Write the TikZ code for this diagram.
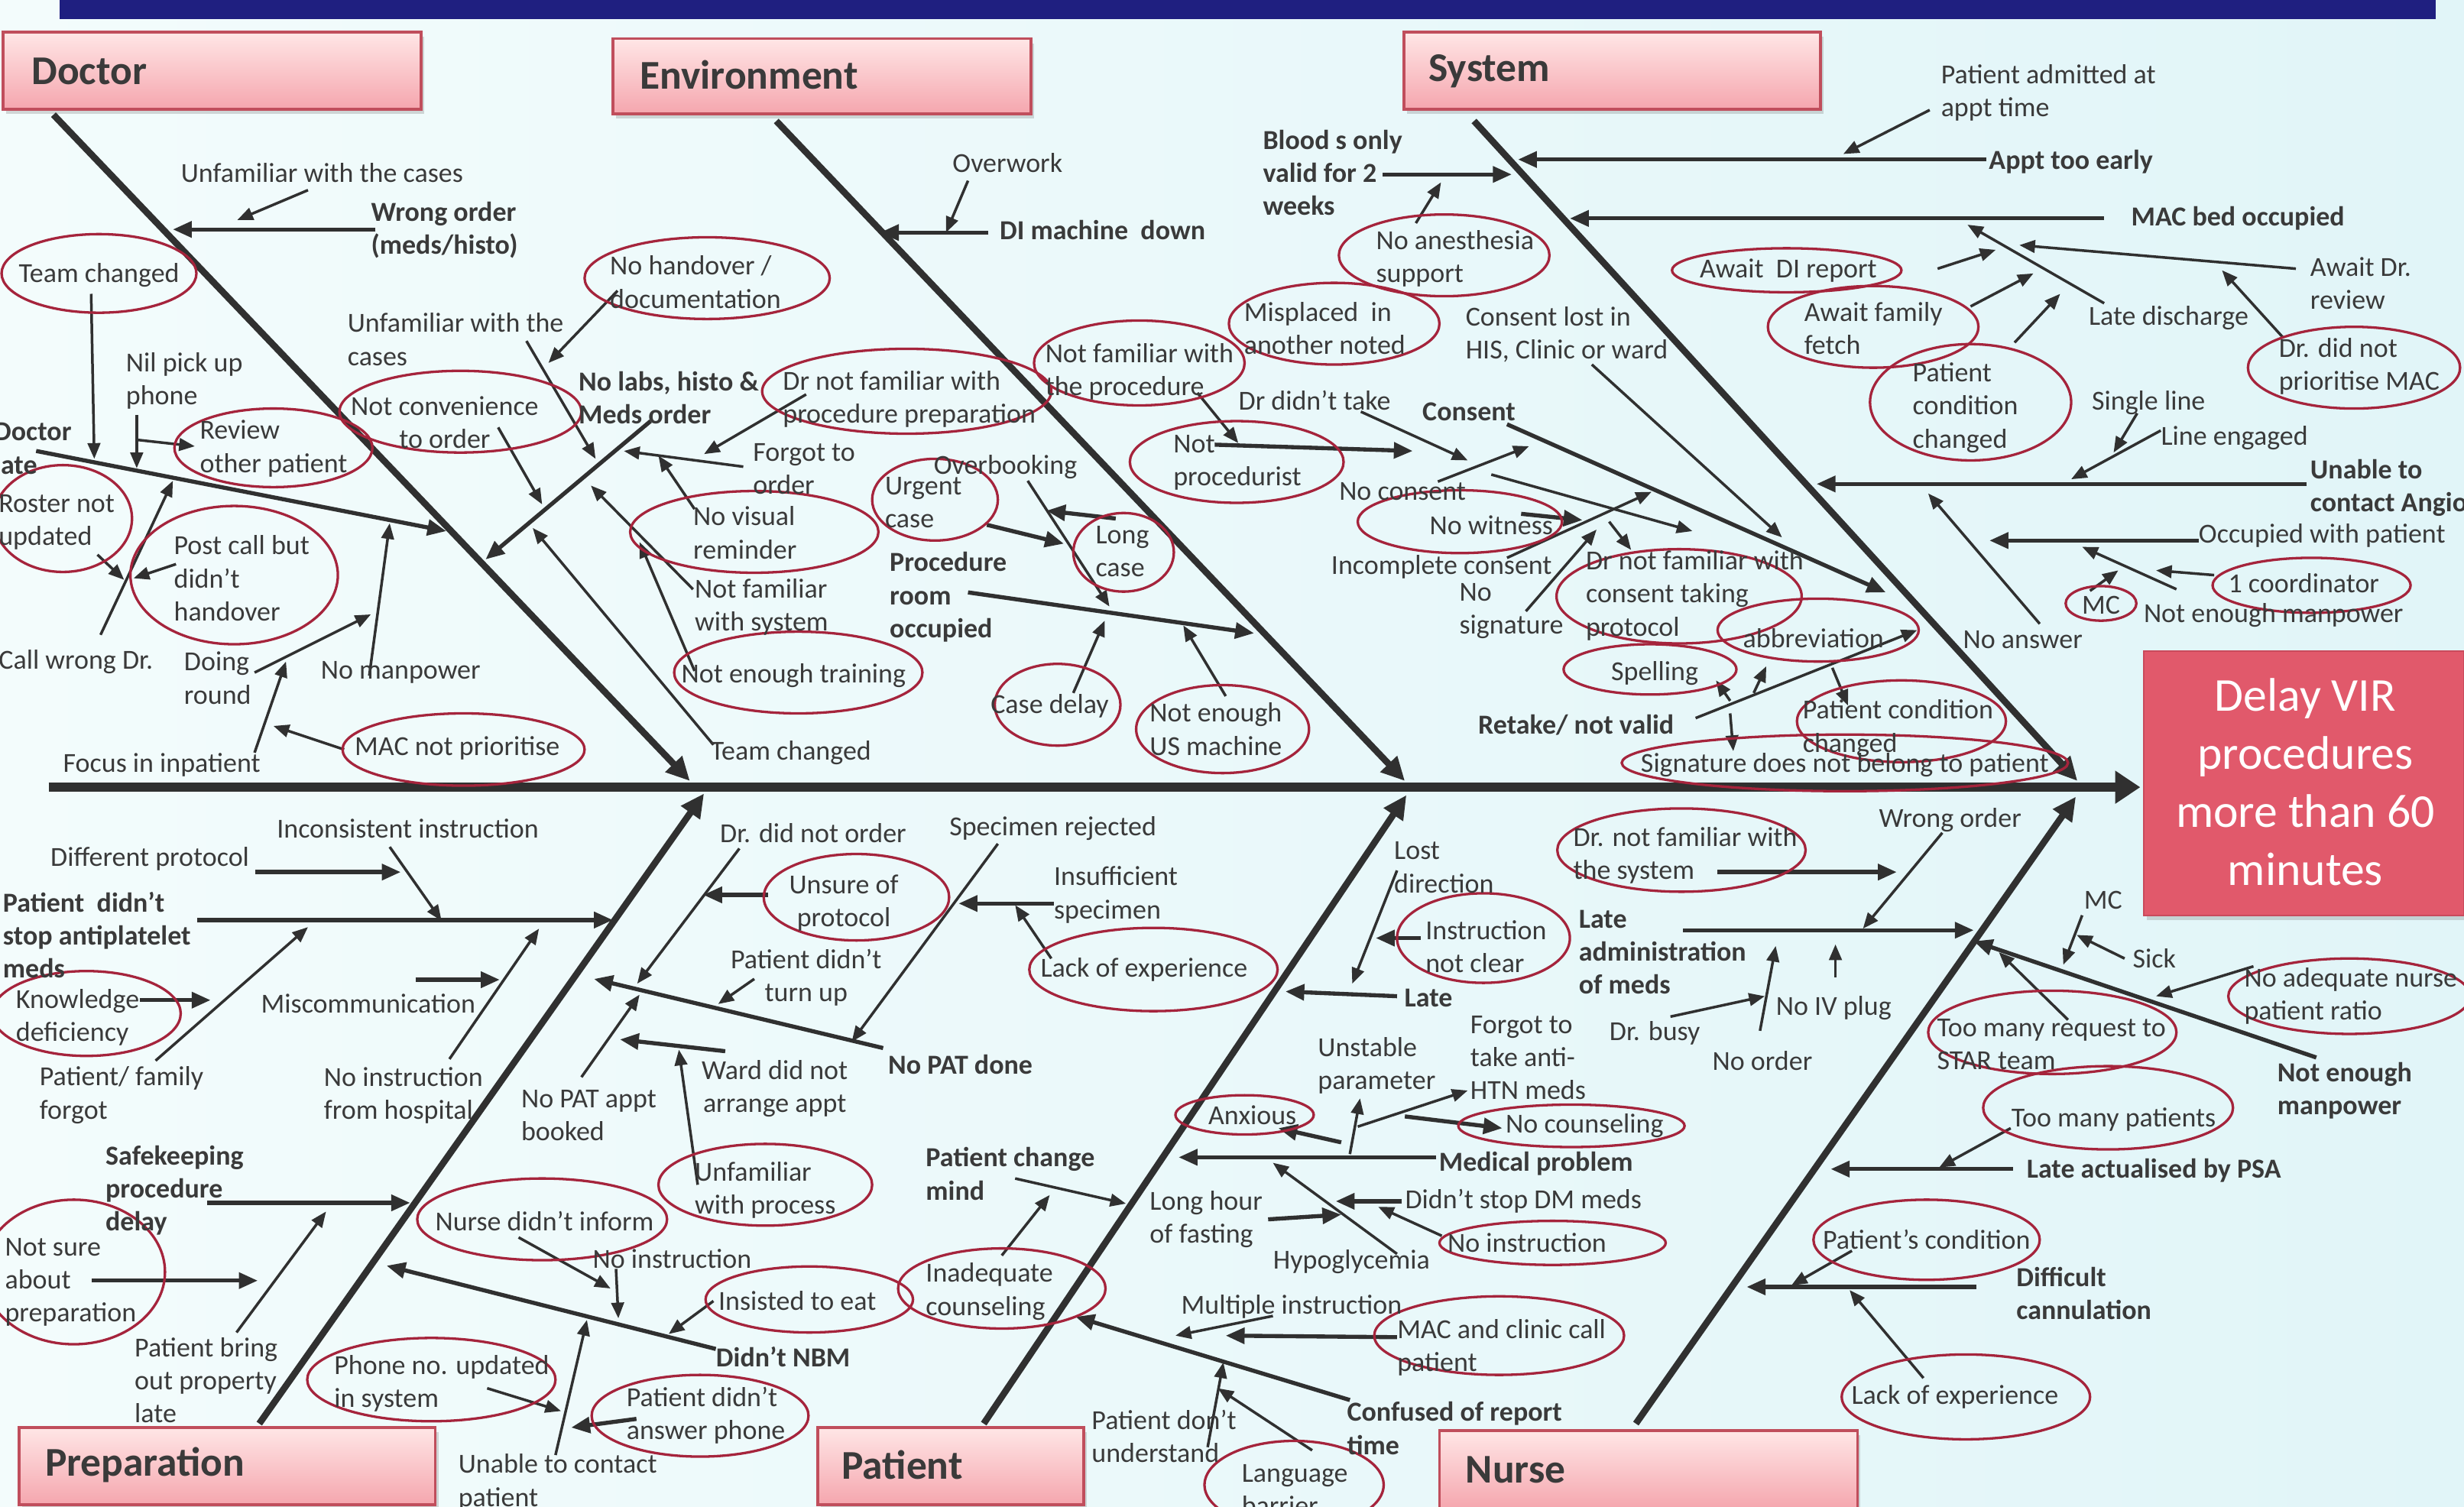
\documentclass[tikz,border=0pt]{standalone}
\usepackage{fontspec}
\setmainfont{Carlito}
\usetikzlibrary{arrows.meta,shadows}
\definecolor{inkgray}{HTML}{3A3A3A}
\definecolor{linegray}{HTML}{303030}
\definecolor{ringred}{HTML}{A5243C}
\definecolor{boxtop}{HTML}{FFE6E6}
\definecolor{boxbot}{HTML}{F5A6AE}
\definecolor{boxedge}{HTML}{C04E5C}
\definecolor{effectfill}{HTML}{E1596B}
\definecolor{effectedge}{HTML}{C94A5C}
\definecolor{navybar}{HTML}{1F1F80}
\definecolor{bgleft}{HTML}{F3FCFC}
\definecolor{bgright}{HTML}{E1F5F8}

\tikzset{
  lbl/.style={font=\fontsize{17.5pt}{21pt}\selectfont, text=inkgray, inner sep=0pt, align=left},
  blbl/.style={lbl, font=\fontsize{17.5pt}{21pt}\selectfont\bfseries},
  clbl/.style={lbl, align=center},
  ring/.style={draw=ringred, line width=1.6pt},
  spine/.style={draw=linegray, line width=5.5pt, -{Triangle[length=16pt,width=20pt]}},
  bone/.style={draw=linegray, line width=4.2pt, -{Triangle[length=15pt,width=14pt]}},
  branch/.style={draw=linegray, line width=2.6pt, -{Triangle[length=12pt,width=10pt]}},
  twig/.style={draw=linegray, line width=1.7pt, -{Triangle[length=10pt,width=8pt]}},
  catbox/.style={draw=boxedge, line width=1.8pt, top color=boxtop, bottom color=boxbot, inner sep=0pt,
    drop shadow={opacity=0.3, shadow xshift=2pt, shadow yshift=-3pt}},
  cattext/.style={font=\fontsize{26pt}{30pt}\selectfont\bfseries, text=inkgray, inner sep=0pt, anchor=west}
}

\begin{document}
\begin{tikzpicture}[x=1pt,y=-1pt]
\useasboundingbox (0,0) rectangle (1568,959);
\fill[left color=bgleft, right color=bgright] (0,0) rectangle (1568,959);
\fill[navybar] (38,0) rectangle (1550,12);

% categories
\node[catbox, minimum width=266pt, minimum height=49pt] (doctorbox) at (135,45) {};
\node[catbox, minimum width=266pt, minimum height=48pt] (envbox) at (523,48.5) {};
\node[catbox, minimum width=265pt, minimum height=49pt] (sysbox) at (1026,45) {};
\node[catbox, minimum width=265pt, minimum height=49pt] (prepbox) at (144.5,933) {};
\node[catbox, minimum width=169pt, minimum height=49pt] (patbox) at (605,933) {};
\node[catbox, minimum width=266pt, minimum height=50pt] (nursebox) at (1049,935.5) {};
\node[cattext] (doctortxt) at (20,45.5) {Doctor};
\node[cattext] (envtxt) at (407,47.5) {Environment};
\node[cattext] (systxt) at (909,45.5) {System};
\node[cattext] (preptxt) at (28.5,932.5) {Preparation};
\node[cattext] (pattxt) at (535.5,932.5) {Patient};
\node[cattext] (nursetxt) at (932.5,935.5) {Nurse};

\node[draw=effectedge, line width=1pt, fill=effectfill, minimum width=204pt, minimum height=168pt, inner sep=0pt,
  drop shadow={opacity=0.3, shadow xshift=2pt, shadow yshift=-3pt}] (effect) at (1466,498.5) {};
\node[font=\fontsize{30pt}{37pt}\selectfont, text=white, align=center, inner sep=0pt] (effecttxt) at (1467,497.5)
  {Delay VIR\\procedures\\more than 60\\minutes};

% spine and bones
\coordinate (spine0) at (31,501);
\coordinate (spine1) at (1362,501);
\coordinate (doc0) at (34,73);   \coordinate (doc1) at (439,497);
\coordinate (env0) at (494,77);  \coordinate (env1) at (894,497);
\coordinate (sys0) at (938,77);  \coordinate (sys1) at (1322,497);
\coordinate (prep0) at (165,906); \coordinate (prep1) at (448,505);
\coordinate (pat0) at (626,906); \coordinate (pat1) at (895,506);
\coordinate (nur0) at (1041,906); \coordinate (nur1) at (1321,507);
\draw[spine] (spine0) -- (spine1);
\draw[bone] (doc0) -- (doc1);
\draw[bone] (env0) -- (env1);
\draw[bone] (sys0) -- (sys1);
\draw[bone] (prep0) -- (prep1);
\draw[bone] (pat0) -- (pat1);
\draw[bone] (nur0) -- (nur1);

% Doctor
\draw[twig] (196,121) -- (151,140);
\draw[branch] (239,146) -- (110,146);
\draw[twig] (58,187) -- (60,292);
\draw[twig] (87,264) -- (87,298);
\draw[twig] (88,280) -- (124,284);
\draw[branch] (23,287) -- (284,338);
\draw[twig] (62,353) -- (79,369);
\draw[twig] (112,359) -- (85,368);
\draw[twig] (64,404) -- (110,306);
\draw[twig] (162,428) -- (236,391);
\draw[twig] (235,430) -- (248,333);
\draw[twig] (162,479) -- (182,421);
\draw[twig] (219,477) -- (174,462);
\draw[twig] (317,272) -- (345,321);
\draw[branch] (414,268) -- (309,356);
\draw[twig] (335,217) -- (379,292);
\draw[twig] (393,185) -- (349,231);
\draw[twig] (513,251) -- (448,289);
\draw[twig] (473,297) -- (397,287);
\draw[twig] (442,324) -- (419,290);
\draw[twig] (441,375) -- (376,309);
\draw[twig] (442,427) -- (407,345);
\draw[twig] (454,474) -- (339,336);
\draw[ring] (63,174) ellipse [x radius=62, y radius=25];
\draw[ring] (174,285) ellipse [x radius=63, y radius=25];
\draw[ring] (40,330) ellipse [x radius=44, y radius=34];
\draw[ring] (149,366) ellipse [x radius=66, y radius=44];
\draw[ring] (295,477) ellipse [x radius=77, y radius=23];
\draw[ring] (293,262) ellipse [x radius=77, y radius=26];
\draw[ring] (450,177) ellipse [x radius=78, y radius=26];
\draw[ring] (577,249) ellipse [x radius=92, y radius=27];
\draw[ring] (480,338.5) ellipse [x radius=79, y radius=26];
\draw[ring] (508,428) ellipse [x radius=79, y radius=26];
\node[lbl, anchor=west] (unfama) at (115,110) {Unfamiliar with the cases};
\node[blbl, anchor=west] (wrongord) at (236,146.5) {Wrong order\\(meds/histo)};
\node[lbl] (teamch) at (63,175) {Team changed};
\node[lbl, anchor=west] (nilpick) at (80,242.5) {Nil pick up\\phone};
\node[lbl, anchor=west] (review) at (127,285.5) {Review\\other patient};
\node[blbl, anchor=west] (doclate) at (-4,285.5) {Doctor\\late};
\node[lbl, anchor=west] (roster) at (-1,332.5) {Roster not\\updated};
\node[lbl, anchor=west] (postcall) at (110.5,368) {Post call but\\didn’t\\handover};
\node[lbl, anchor=west] (callwrong) at (-1,421) {Call wrong Dr.};
\node[lbl, anchor=west] (doinground) at (117,431.5) {Doing\\round};
\node[lbl, anchor=west] (nomanpa) at (204,428) {No manpower};
\node[lbl, anchor=west] (focusin) at (40,487) {Focus in inpatient};
\node[lbl] (macnot) at (291,476) {MAC not prioritise};
\node[clbl] (notconv) at (283,269) {Not convenience\\to order};
\node[blbl, anchor=west] (nolabs) at (368,253) {No labs, histo \&\\Meds order};
\node[lbl, anchor=west] (unfamb) at (221,216) {Unfamiliar with the\\cases};
\node[lbl, anchor=west] (nohand) at (388,179.5) {No handover /\\documentation};
\node[lbl, anchor=west] (drprep) at (498,254) {Dr not familiar with\\procedure preparation};
\node[lbl, anchor=west] (forgotord) at (479,298.5) {Forgot to\\order};
\node[lbl, anchor=west] (novisual) at (441,339) {No visual\\reminder};
\node[lbl, anchor=west] (notfamsys) at (442,386.5) {Not familiar\\with system};
\node[lbl] (notenoughtr) at (505,430) {Not enough training};
\node[lbl, anchor=west] (teamchb) at (452,479) {Team changed};

% Environment
\draw[twig] (616,115) -- (602,148);
\draw[branch] (629,148) -- (560,148);
\draw[twig] (654,306) -- (706,386);
\draw[branch] (710,330) -- (666,325);
\draw[branch] (628,334) -- (677,346);
\draw[branch] (616,377) -- (798,403);
\draw[twig] (683,441) -- (703,395);
\draw[twig] (780,443) -- (753,398);
\draw[twig] (762,250) -- (788,282);
\draw[branch] (773,283) -- (899,287);
\draw[ring] (595,318) ellipse [x radius=40, y radius=26];
\draw[ring] (715,351.5) ellipse [x radius=32, y radius=25];
\draw[ring] (673,448.5) ellipse [x radius=40, y radius=26];
\draw[ring] (778,464) ellipse [x radius=55, y radius=28];
\draw[ring] (725,231) ellipse [x radius=67, y radius=27];
\draw[ring] (787,294) ellipse [x radius=68, y radius=26];
\node[lbl, anchor=west] (overwork) at (606,103.5) {Overwork};
\node[blbl, anchor=west] (dimachine) at (636,146.5) {DI machine\ \ down};
\node[lbl, anchor=west] (urgent) at (563,320) {Urgent\\case};
\node[lbl, anchor=west] (overbook) at (594,297) {Overbooking};
\node[lbl, anchor=west] (longcase) at (697,351) {Long\\case};
\node[blbl, anchor=west] (procroom) at (566,380) {Procedure\\room\\occupied};
\node[lbl] (casedelay) at (668,449.5) {Case delay};
\node[lbl, anchor=west] (usmach) at (731.5,464) {Not enough\\US machine};
\node[lbl, anchor=west] (notfamproc) at (665,236.5) {Not familiar with\\the procedure};
\node[lbl, anchor=west] (notproc) at (746.5,294.5) {Not\\procedurist};

% System
\draw[branch] (880,111) -- (962,111);
\draw[twig] (901,142) -- (917,116);
\draw[twig] (1013,232) -- (1134,342);
\draw[twig] (1228,70) -- (1173,98);
\draw[branch] (1264,101.5) -- (966,101.5);
\draw[branch] (1339,139) -- (999,139);
\draw[twig] (1233,171) -- (1270,159);
\draw[twig] (1254,195) -- (1294,174);
\draw[twig] (1282,218) -- (1311,187);
\draw[twig] (1339,193) -- (1252,143);
\draw[twig] (1461,171) -- (1285,156);
\draw[twig] (1453,215) -- (1414,172);
\draw[twig] (1360,263) -- (1345,288);
\draw[twig] (1375,274) -- (1318,305);
\draw[branch] (1468,308) -- (1156,308);
\draw[twig] (1298,397) -- (1227,314);
\draw[branch] (1399,344) -- (1266,344);
\draw[twig] (1409,366) -- (1372,363);
\draw[twig] (1385,375) -- (1325,348);
\draw[twig] (1330,376) -- (1348,363);
\draw[twig] (866,262) -- (934,293);
\draw[branch] (959,270) -- (1200,377);
\draw[twig] (915,306.5) -- (973,284);
\draw[twig] (949,302) -- (1077,338);
\draw[branch] (968,327) -- (1007,331);
\draw[twig] (959,355) -- (1051,313);
\draw[twig] (971,389) -- (1016,337);
\draw[twig] (1024,332) -- (1038,350);
\draw[twig] (1079,457) -- (1220,401);
\draw[twig] (1101,446) -- (1092,433);
\draw[twig] (1116,441) -- (1124,424);
\draw[twig] (1166,425) -- (1176,449);
\draw[twig] (1101,454) -- (1103,478);
\draw[ring] (919,162.5) ellipse [x radius=67, y radius=26];
\draw[ring] (849,206) ellipse [x radius=67, y radius=26];
\draw[ring] (1137,172) ellipse [x radius=73, y radius=14];
\draw[ring] (1192,208) ellipse [x radius=67, y radius=26];
\draw[ring] (1254,256) ellipse [x radius=64, y radius=37];
\draw[ring] (1498,234) ellipse [x radius=67.5, y radius=26];
\draw[ring] (1471,372.5) ellipse [x radius=63, y radius=17.5];
\draw[ring] (1337,384) ellipse [x radius=22.5, y radius=11];
\draw[ring] (929,332) ellipse [x radius=65, y radius=20];
\draw[ring] (1068.5,379.5) ellipse [x radius=78, y radius=30];
\draw[ring] (1157,401) ellipse [x radius=64, y radius=20];
\draw[ring] (1050,426) ellipse [x radius=55, y radius=16];
\draw[ring] (1210,459) ellipse [x radius=66.5, y radius=26];
\draw[ring] (1174,485.5) ellipse [x radius=142, y radius=18];
\node[blbl, anchor=west] (bloodonly) at (803.5,110) {Blood s only\\valid for 2\\weeks};
\node[lbl, anchor=west] (noanest) at (875.5,164.5) {No anesthesia\\support};
\node[lbl, anchor=west] (misplaced) at (791.5,209) {Misplaced\ \ in\\another noted};
\node[lbl, anchor=west] (consentlost) at (932.5,213) {Consent lost in\\HIS, Clinic or ward};
\node[lbl, anchor=west] (admitted) at (1235,59) {Patient admitted at\\appt time};
\node[blbl, anchor=west] (apptearly) at (1265.5,103) {Appt too early};
\node[blbl, anchor=west] (macbed) at (1356,139) {MAC bed occupied};
\node[lbl] (awaitdi) at (1138,172) {Await\ \ DI report};
\node[lbl, anchor=west] (awaitfam) at (1148,209) {Await family\\fetch};
\node[lbl, anchor=west] (patcondA) at (1217,259.5) {Patient\\condition\\changed};
\node[lbl, anchor=west] (latedis) at (1329,202.5) {Late discharge};
\node[lbl, anchor=west] (awaitdr) at (1470,180.5) {Await Dr.\\review};
\node[lbl, anchor=west] (drnotprio) at (1450,233) {Dr. did not\\prioritise MAC};
\node[lbl, anchor=west] (singleline) at (1331,256.5) {Single line};
\node[lbl, anchor=west] (lineeng) at (1375,278.5) {Line engaged};
\node[blbl, anchor=west] (unableangio) at (1470,310.5) {Unable to\\contact Angio};
\node[lbl, anchor=west] (noanswer) at (1249,407) {No answer};
\node[lbl, anchor=west] (occupied) at (1399,341) {Occupied with patient};
\node[lbl] (onecoord) at (1466,371) {1 coordinator};
\node[lbl, anchor=west] (notenoughmp) at (1364,391.5) {Not enough manpower};
\node[lbl] (mcsys) at (1337,385) {MC};
\node[lbl, anchor=west] (drdidnt) at (788,255) {Dr didn’t take};
\node[blbl, anchor=west] (consent) at (905,262) {Consent};
\node[lbl, anchor=west] (noconsent) at (852,313) {No consent};
\node[lbl] (nowitness) at (949,334) {No witness};
\node[lbl, anchor=west] (incomplete) at (847,361) {Incomplete consent};
\node[lbl, anchor=west] (nosig) at (928.5,389) {No\\signature};
\node[lbl, anchor=west] (drconsent) at (1009,379) {Dr not familiar with\\consent taking\\protocol};
\node[lbl] (abbrev) at (1154,406) {abbreviation};
\node[lbl] (spelling) at (1053,428.5) {Spelling};
\node[blbl, anchor=west] (retake) at (940.5,461.5) {Retake/ not valid};
\node[lbl, anchor=west] (patcondB) at (1147,463.5) {Patient condition\\changed};
\node[lbl] (signature) at (1174,487) {Signature does not belong to patient};

% Preparation
\draw[twig] (248,539) -- (281,586);
\draw[branch] (162.5,555) -- (255,555);
\draw[branch] (125.5,585.5) -- (390,585.5);
\draw[branch] (89,636.5) -- (134,636.5);
\draw[twig] (99,675) -- (196,590);
\draw[branch] (264.5,623.5) -- (318,623.5);
\draw[twig] (286,674) -- (343,591);
\draw[branch] (132,765.5) -- (261,765.5);
\draw[branch] (58.5,815) -- (164,815);
\draw[twig] (150.5,848) -- (207.5,771);
\draw[twig] (330,787.5) -- (388.5,820);
\draw[twig] (392,807.5) -- (393.5,839);
\draw[branch] (455.5,858.5) -- (246,805.5);
\draw[twig] (454,828) -- (425.5,849);
\draw[twig] (310,883.5) -- (357,898);
\draw[branch] (405,903) -- (363.5,908.5);
\draw[twig] (353.5,926) -- (373.5,840);
\draw[ring] (55,645) ellipse [x radius=60, y radius=27];
\draw[ring] (47,809.5) ellipse [x radius=58, y radius=46];
\draw[ring] (345,776) ellipse [x radius=79.5, y radius=26];
\draw[ring] (515,827) ellipse [x radius=66, y radius=21];
\draw[ring] (274.5,878) ellipse [x radius=79, y radius=26.5];
\draw[ring] (445.5,901) ellipse [x radius=69, y radius=26];
\node[lbl, anchor=west] (inconsistent) at (176,527.5) {Inconsistent instruction};
\node[lbl, anchor=west] (diffprot) at (32,546.5) {Different protocol};
\node[blbl, anchor=west] (antiplat) at (1.7,595) {Patient\ \ didn’t\\stop antiplatelet\\meds};
\node[lbl, anchor=west] (knowledge) at (10,647.5) {Knowledge\\deficiency};
\node[lbl, anchor=west] (famforgot) at (25,697) {Patient/ family\\forgot};
\node[lbl, anchor=west] (miscomm) at (166,638.5) {Miscommunication};
\node[lbl, anchor=west] (noinsthosp) at (206,697) {No instruction\\from hospital};
\node[blbl, anchor=west] (safekeep) at (67,757.5) {Safekeeping\\procedure\\delay};
\node[lbl, anchor=west] (notsure) at (3,816) {Not sure\\about\\preparation};
\node[lbl, anchor=west] (bringout) at (85.5,878.3) {Patient bring\\out property\\late};
\node[lbl] (nurseinform) at (346.5,777) {Nurse didn’t inform};
\node[lbl, anchor=west] (noinstA) at (377,801) {No instruction};
\node[blbl, anchor=west] (didntnbm) at (455.5,863.5) {Didn’t NBM};
\node[lbl, anchor=west] (insisted) at (457,828) {Insisted to eat};
\node[lbl, anchor=west] (phoneno) at (212.5,880.5) {Phone no. updated\\in system};
\node[lbl, anchor=west] (noanswerph) at (398.5,901) {Patient didn’t\\answer phone};
\node[lbl, anchor=west] (unablepat) at (291.5,943.5) {Unable to contact\\patient};

% Patient
\draw[twig] (470.5,540) -- (405.5,626);
\draw[branch] (489,569.5) -- (447.5,569.5);
\draw[twig] (635,537) -- (542,663);
\draw[branch] (670.5,575) -- (610,575);
\draw[twig] (669,610) -- (646,576);
\draw[twig] (480,623) -- (457,639);
\draw[branch] (562,667) -- (378,623);
\draw[twig] (370,685.5) -- (407,633);
\draw[branch] (461.5,669) -- (394.5,661.5);
\draw[twig] (444,754) -- (432,668);
\draw[twig] (646,750) -- (716.5,766);
\draw[twig] (637.5,799) -- (668,760.5);
\draw[branch] (859,891) -- (684.5,838);
\draw[twig] (810,837.5) -- (748,850);
\draw[branch] (889,851) -- (780,850);
\draw[twig] (768.5,921) -- (778.5,867);
\draw[twig] (835,923) -- (775,883.5);
\draw[branch] (914,736.5) -- (750,736.5);
\draw[branch] (853.5,727) -- (813.5,718);
\draw[twig] (859,734.5) -- (865.5,699);
\draw[twig] (864,717) -- (934,694);
\draw[branch] (894,710.5) -- (956,718);
\draw[branch] (807,776) -- (853.5,773);
\draw[branch] (892,764.5) -- (850,764.5);
\draw[twig] (889,798) -- (810,740);
\draw[twig] (917.5,786.5) -- (877,768);
\draw[ring] (545,571) ellipse [x radius=59, y radius=27.5];
\draw[ring] (734,617) ellipse [x radius=79, y radius=26.5];
\draw[ring] (487,754) ellipse [x radius=68, y radius=26];
\draw[ring] (637.5,820) ellipse [x radius=66, y radius=25.5];
\draw[ring] (954,850) ellipse [x radius=79.5, y radius=25];
\draw[ring] (823.5,945) ellipse [x radius=57, y radius=28];
\draw[ring] (792,709.5) ellipse [x radius=44, y radius=12.5];
\draw[ring] (1000,716.5) ellipse [x radius=72, y radius=13.5];
\draw[ring] (988,791) ellipse [x radius=72, y radius=14];
\node[lbl, anchor=west] (drnotorder) at (458,530) {Dr. did not order};
\node[clbl] (unsure) at (537,574.5) {Unsure of\\protocol};
\node[lbl, anchor=west] (specrej) at (604,527) {Specimen rejected};
\node[lbl, anchor=west] (insuff) at (670.5,569.5) {Insufficient\\specimen};
\node[lbl] (lackexpA) at (728,617) {Lack of experience};
\node[clbl] (turnup) at (513,622) {Patient didn’t\\turn up};
\node[blbl, anchor=west] (nopat) at (565,677.5) {No PAT done};
\node[lbl, anchor=west] (nopatappt) at (331.5,710) {No PAT appt\\booked};
\node[clbl] (warddid) at (493,693) {Ward did not\\arrange appt};
\node[lbl, anchor=west] (unfamproc) at (442,757.5) {Unfamiliar\\with process};
\node[blbl, anchor=west] (changemind) at (589,747) {Patient change\\mind};
\node[lbl, anchor=west] (inadequate) at (589,822) {Inadequate\\counseling};
\node[blbl, anchor=west] (confused) at (857,909) {Confused of report\\time};
\node[lbl, anchor=west] (multinst) at (751.5,831.5) {Multiple instruction};
\node[lbl, anchor=west] (macclinic) at (889,857.5) {MAC and clinic call\\patient};
\node[lbl, anchor=west] (dontund) at (694.5,914) {Patient don’t\\understand};
\node[lbl, anchor=west] (language) at (790,948) {Language\\barrier};
\node[blbl, anchor=west] (medprob) at (915.5,740.5) {Medical problem};
\node[lbl] (anxious) at (797,709.5) {Anxious};
\node[lbl, anchor=west] (unstable) at (838.5,678) {Unstable\\parameter};
\node[lbl, anchor=west] (antihtn) at (935.5,673) {Forgot to\\take anti-\\HTN meds};
\node[lbl, anchor=west] (nocounsel) at (958,716.5) {No counseling};
\node[lbl, anchor=west] (longhour) at (731.5,776) {Long hour\\of fasting};
\node[lbl, anchor=west] (dmmeds) at (894,764.5) {Didn’t stop DM meds};
\node[lbl, anchor=west] (hypo) at (810,803) {Hypoglycemia};
\node[lbl, anchor=west] (noinstB) at (921,791) {No instruction};

% Nurse
\draw[twig] (889,554) -- (860.5,626);
\draw[branch] (904,597) -- (875.5,597);
\draw[branch] (889,634) -- (818,631);
\draw[branch] (1093,555) -- (1207,555);
\draw[twig] (1236,530) -- (1185.5,591);
\draw[branch] (1071,592) -- (1256,592);
\draw[twig] (1120,656) -- (1130,602);
\draw[twig] (1063,647) -- (1123,634);
\draw[twig] (1168,622) -- (1168,601);
\draw[twig] (1325,582.5) -- (1313,614);
\draw[twig] (1352,610) -- (1321.5,595);
\draw[branch] (1474,673) -- (1256,599);
\draw[twig] (1434,615) -- (1372,634);
\draw[twig] (1316,649) -- (1272,606);
\draw[twig] (1279.5,718) -- (1234,743);
\draw[branch] (1281,744) -- (1165,744);
\draw[twig] (1178.5,796) -- (1140,818);
\draw[branch] (1257.5,819) -- (1111.5,819);
\draw[twig] (1224,877) -- (1177,821);
\draw[ring] (944,597) ellipse [x radius=55, y radius=28.5];
\draw[ring] (1070,541) ellipse [x radius=79, y radius=26.5];
\draw[ring] (1495,634) ellipse [x radius=77, y radius=24];
\draw[ring] (1306,657) ellipse [x radius=79, y radius=26.5];
\draw[ring] (1341.5,705) ellipse [x radius=79.5, y radius=26.5];
\draw[ring] (1226,789) ellipse [x radius=72, y radius=25.5];
\draw[ring] (1251,889) ellipse [x radius=79, y radius=27];
\node[lbl, anchor=west] (lostdir) at (887,552) {Lost\\direction};
\node[lbl, anchor=west] (instclear) at (907,602.5) {Instruction\\not clear};
\node[blbl, anchor=west] (late) at (893.5,635) {Late};
\node[lbl, anchor=west] (drnotsys) at (1001,544.5) {Dr. not familiar with\\the system};
\node[lbl, anchor=west] (wrongordB) at (1195.5,522) {Wrong order};
\node[blbl, anchor=west] (lateadmin) at (1004.5,606) {Late\\administration\\of meds};
\node[lbl, anchor=west] (noiv) at (1130,641.5) {No IV plug};
\node[lbl, anchor=west] (drbusy) at (1024,657.5) {Dr. busy};
\node[lbl, anchor=west] (noorder) at (1089.5,675) {No order};
\node[lbl, anchor=west] (mcnurse) at (1326,573) {MC};
\node[lbl, anchor=west] (sick) at (1357,610) {Sick};
\node[blbl, anchor=west] (nurseman) at (1449,694) {Not enough\\manpower};
\node[lbl, anchor=west] (ratio) at (1428,634) {No adequate nurse\\patient ratio};
\node[lbl, anchor=west] (star) at (1232.5,664.5) {Too many request to\\STAR team};
\node[lbl] (toomany) at (1345,712.5) {Too many patients};
\node[blbl, anchor=west] (psa) at (1289.5,745) {Late actualised by PSA};
\node[lbl] (patcondC) at (1226,789) {Patient’s condition};
\node[blbl, anchor=west] (cannul) at (1283,823) {Difficult\\cannulation};
\node[lbl] (lackexpB) at (1244,889) {Lack of experience};
\end{tikzpicture}
\end{document}
